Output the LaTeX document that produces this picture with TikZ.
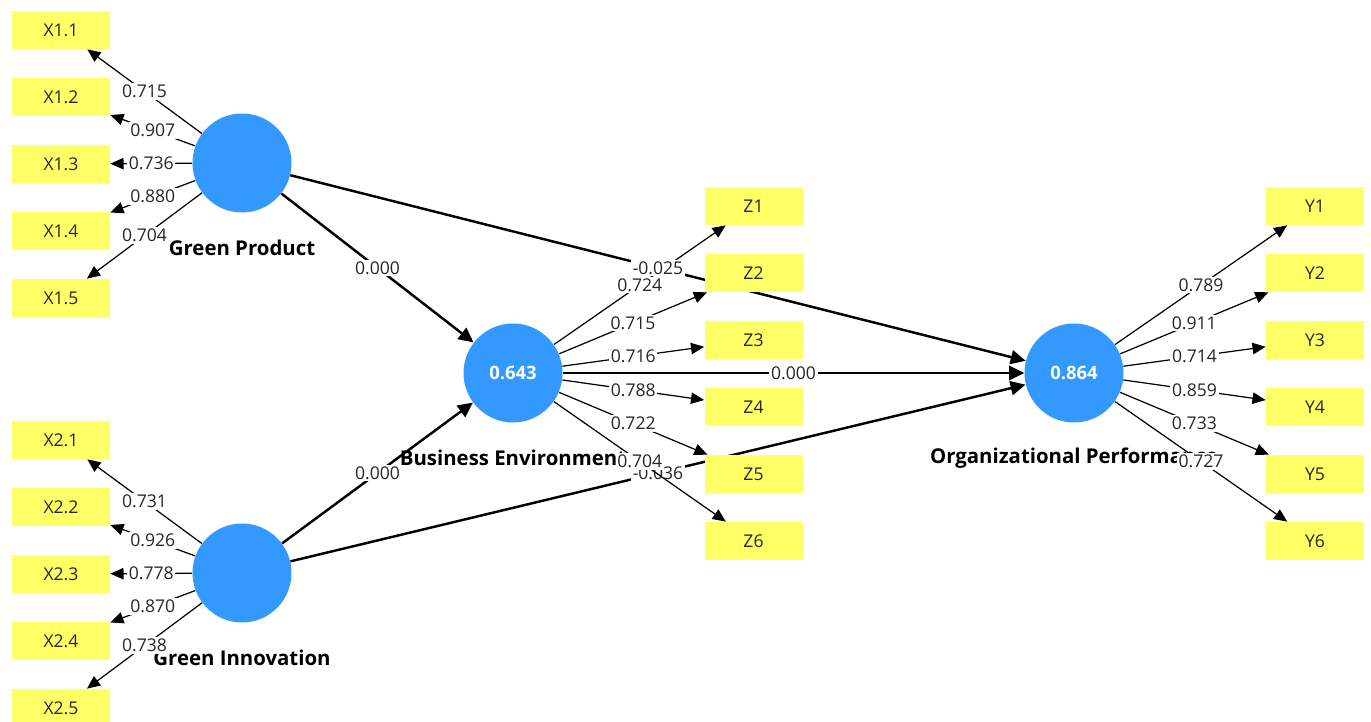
\documentclass[tikz,border=0pt]{standalone}
\usepackage{fontspec}
\setmainfont{Open Sans}
\usetikzlibrary{arrows.meta,backgrounds}

\definecolor{latblue}{RGB}{51,153,255}
\definecolor{indyellow}{RGB}{255,255,102}

\tikzset{
  latent/.style={circle, fill=latblue, minimum size=1.98cm, inner sep=0pt,
    text=white, font=\fontsize{10.5}{12}\selectfont\bfseries},
  indicator/.style={rectangle, fill=indyellow, minimum width=1.96cm,
    minimum height=0.76cm, inner sep=0pt, text=black!85,
    font=\fontsize{10}{12}\selectfont},
  latname/.style={inner sep=1pt, font=\fontsize{11.6}{13}\selectfont\bfseries},
  coef/.style={fill=white, inner sep=1pt, text=black!85,
    font=\fontsize{10}{12}\selectfont},
  loading/.style={line width=0.7pt, -{Triangle[length=7.5pt,width=6.5pt]}},
  inner path/.style={line width=1.4pt, -{Triangle[length=8.5pt,width=8pt]}}
}

\begin{document}
\begin{tikzpicture}[x=0.02cm, y=-0.02cm]
  \useasboundingbox (0,0) rectangle (1371,722);
  % latent variables
  \node[latent] (gp) at (242,163) {};
  \node[latent] (gi) at (242,573) {};
  \node[latent] (be) at (513,373) {0.643};
  \node[latent] (op) at (1074,373) {0.864};
  % indicators
  \foreach \i in {1,...,5}
    {\node[indicator] (xa\i) at (61,{30+67*(\i-1)}) {X1.\i};
     \node[indicator] (xb\i) at (61,{440+67*(\i-1)}) {X2.\i};}
  \foreach \i in {1,...,6}
    {\node[indicator] (z\i) at (753.5,{206+67*(\i-1)}) {Z\i};
     \node[indicator] (y\i) at (1315,{206+67*(\i-1)}) {Y\i};}

  \begin{scope}[on background layer]
    \node[latname] (gpname) at (242,248) {Green Product};
    \node[latname] (giname) at (242,658) {Green Innovation};
    \node[latname] (bename) at (513,458) {Business Environment};
    \node[latname] (opname) at (1074,458) {Organizational Performance};
    % inner model
    \draw[inner path] (gi) -- node[coef] (gio) {-0.036} (op);
    \draw[inner path] (gp) -- node[coef] (gpb) {0.000} (be);
    \draw[inner path] (gi) -- node[coef] (gib) {0.000} (be);
    \draw[inner path] (be) -- node[coef] (beo) {0.000} (op);
    % outer loadings
    \foreach \i/\v in {1/0.715,2/0.907,3/0.736,4/0.880,5/0.704}
      {\draw[loading] (gp) -- node[coef] (la\i) {\v} (xa\i);}
    \foreach \i/\v in {1/0.731,2/0.926,3/0.778,4/0.870,5/0.738}
      {\draw[loading] (gi) -- node[coef] (lb\i) {\v} (xb\i);}
    \foreach \i/\v in {1/0.724,2/0.715,3/0.716,4/0.788,5/0.722,6/0.704}
      {\draw[loading] (be) -- node[coef] (lz\i) {\v} (z\i);}
    \foreach \i/\v in {1/0.789,2/0.911,3/0.714,4/0.859,5/0.733,6/0.727}
      {\draw[loading] (op) -- node[coef] (ly\i) {\v} (y\i);}
    \draw[inner path] (gp) -- node[coef] (gpo) {-0.025} (op);
  \end{scope}
\end{tikzpicture}
\end{document}
